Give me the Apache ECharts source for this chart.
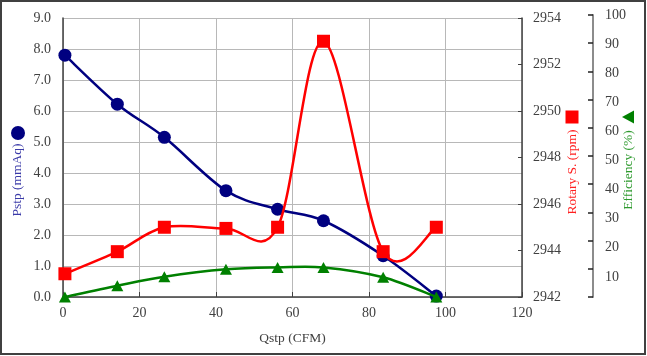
<!DOCTYPE html>
<html>
<head>
<meta charset="utf-8">
<script src="https://cdn.jsdelivr.net/npm/echarts@6/dist/echarts.min.js"></script>
<style>
html,body{margin:0;padding:0;background:#fff;}
#c{width:647px;height:356px;}
</style>
</head>
<body>
<div id="c"></div>
<script>
// Data
var qstp = [0.5, 14.2, 26.5, 42.6, 56.1, 68.1, 83.7, 97.6];
var pstp = [7.8, 6.22, 5.15, 3.43, 2.83, 2.46, 1.33, 0.03];
var rotary = [2943.0, 2943.95, 2945.0, 2944.95, 2945.0, 2953.0, 2943.95, 2945.0];
var efficiency = [0.0, 4.0, 7.2, 9.8, 10.5, 10.5, 7.0, 0.0];

var xTicks = [0, 20, 40, 60, 80, 100, 120];

function pairs(xs, ys){ return xs.map(function(x,i){ return [x, ys[i]]; }); }

var FONT = '"Liberation Serif", "DejaVu Serif", serif';
var labelStyle = { fontFamily: FONT, fontSize: 14, color: '#404040' };

// Excel-like smoothed curve (Catmull-Rom as cubic Bezier) through the library's coordinates
function smoothRenderer(xs, ys, color, width){
  return function(params, api){
    if (params.dataIndex !== 0) return null;
    var p = xs.map(function(x,i){ return api.coord([x, ys[i]]); });
    var n = p.length;
    var d = 'M' + p[0][0] + ' ' + p[0][1];
    for (var i = 0; i < n - 1; i++){
      var p0 = p[Math.max(i-1,0)], p1 = p[i], p2 = p[i+1], p3 = p[Math.min(i+2,n-1)];
      var c1x = p1[0] + (p2[0]-p0[0])/6, c1y = p1[1] + (p2[1]-p0[1])/6;
      var c2x = p2[0] - (p3[0]-p1[0])/6, c2y = p2[1] - (p3[1]-p1[1])/6;
      d += ' C' + c1x + ' ' + c1y + ' ' + c2x + ' ' + c2y + ' ' + p2[0] + ' ' + p2[1];
    }
    return { type: 'path', shape: { pathData: d }, style: { fill: 'none', stroke: color, lineWidth: width } };
  };
}

var chart = echarts.init(document.getElementById('c'), null, {renderer:'canvas'});
var option = {
  animation: false,
  backgroundColor: '#ffffff',
  grid: [
    { left: 63, right: 125, top: 18, bottom: 59 },
    { left: 63, right: 125, top: 15, bottom: 59 },
    { left: 63, right: 125, top: 15, bottom: 50 }
  ],
  xAxis: [
    {
      type: 'value', gridIndex: 0, min: 0, max: 120, interval: 20,
      axisLine: { show: true, onZero: false, lineStyle: { color: '#404040', width: 1.5 } },
      axisTick: { show: true, inside: true, length: 5, lineStyle: { color: '#404040' } },
      axisLabel: Object.assign({ margin: 9, formatter: function(v){ return xTicks.indexOf(v) >= 0 ? String(v) : ''; } }, labelStyle),
      splitLine: { show: true, lineStyle: { color: '#b8b8b8', width: 1 } },
      name: 'Qstp (CFM)', nameLocation: 'middle', nameGap: 34,
      nameTextStyle: { fontFamily: FONT, fontSize: 13.5, color: '#404040' }
    },
    { type: 'value', gridIndex: 1, min: 0, max: 120, show: false },
    { type: 'value', gridIndex: 2, min: 0, max: 120, show: false }
  ],
  yAxis: [
    {
      type: 'value', gridIndex: 0, position: 'left', min: 0, max: 9, interval: 1,
      axisLine: { show: true, onZero: false, lineStyle: { color: '#404040', width: 1.5 } },
      axisTick: { show: false },
      axisLabel: Object.assign({ margin: 12, formatter: function(v){ return v.toFixed(1); } }, labelStyle),
      splitLine: { show: true, lineStyle: { color: '#b8b8b8', width: 1 } }
    },
    {
      type: 'value', gridIndex: 0, position: 'right', min: 2942, max: 2954, interval: 2,
      axisLine: { show: true, onZero: false, lineStyle: { color: '#404040', width: 1.5 } },
      axisTick: { show: true, inside: true, length: 4, lineStyle: { color: '#404040' } },
      axisLabel: Object.assign({ margin: 11, formatter: function(v){ return String(v); } }, labelStyle),
      splitLine: { show: false }
    },
    {
      type: 'value', gridIndex: 1, position: 'right', offset: 71, min: 0, max: 100, interval: 10,
      axisLine: { show: true, onZero: false, lineStyle: { color: '#8c8c8c', width: 2 } },
      axisTick: { show: true, inside: true, length: 5, lineStyle: { color: '#202020', width: 1.5 } },
      axisLabel: { show: false },
      splitLine: { show: false }
    },
    {
      // tick labels of the efficiency axis (spaced slightly wider, as in the reference)
      type: 'value', gridIndex: 2, position: 'right', offset: 71, min: 0, max: 100, interval: 10,
      axisLine: { show: false, onZero: false },
      axisTick: { show: false },
      axisLabel: Object.assign({ margin: 12, showMinLabel: false }, labelStyle),
      splitLine: { show: false }
    }
  ],
  series: [
    {
      name: 'Pstp line', type: 'custom', xAxisIndex: 0, yAxisIndex: 0, z: 2,
      data: pairs(qstp, pstp), encode: { x: 0, y: 1 },
      renderItem: smoothRenderer(qstp, pstp, '#000080', 2.5)
    },
    {
      name: 'Pstp', type: 'scatter', xAxisIndex: 0, yAxisIndex: 0, z: 3,
      data: pairs(qstp, pstp), symbol: 'circle', symbolSize: 13,
      itemStyle: { color: '#000080', opacity: 1 }
    },
    {
      name: 'Rotary line', type: 'custom', xAxisIndex: 0, yAxisIndex: 1, z: 4,
      data: pairs(qstp, rotary), encode: { x: 0, y: 1 },
      renderItem: smoothRenderer(qstp, rotary, '#ff0000', 2.5)
    },
    {
      name: 'Rotary S.', type: 'scatter', xAxisIndex: 0, yAxisIndex: 1, z: 5,
      data: pairs(qstp, rotary), symbol: 'rect', symbolSize: 13,
      itemStyle: { color: '#ff0000', opacity: 1 }
    },
    {
      name: 'Efficiency line', type: 'custom', xAxisIndex: 1, yAxisIndex: 2, z: 6,
      data: pairs(qstp, efficiency), encode: { x: 0, y: 1 },
      renderItem: smoothRenderer(qstp, efficiency, '#008000', 2.5)
    },
    {
      name: 'Efficiency', type: 'scatter', xAxisIndex: 1, yAxisIndex: 2, z: 7,
      data: pairs(qstp, efficiency), symbol: 'triangle', symbolSize: [12, 11],
      itemStyle: { color: '#008000', opacity: 1 }
    }
  ],
  graphic: [
    { type: 'rect', shape: { x: 1, y: 1, width: 644, height: 353 }, style: { fill: 'none', stroke: '#404040', lineWidth: 2 }, silent: true },
    { type: 'text', x: 17, y: 180, rotation: Math.PI/2,
      style: { text: 'Pstp (mmAq)', font: '13.5px ' + FONT, fill: '#3a3aa8', textAlign: 'center', textVerticalAlign: 'middle' } },
    { type: 'circle', shape: { cx: 18, cy: 133, r: 7 }, style: { fill: '#000080' } },
    { type: 'text', x: 572, y: 172, rotation: Math.PI/2,
      style: { text: 'Rotary S. (rpm)', font: '13.5px ' + FONT, fill: '#ff2020', textAlign: 'center', textVerticalAlign: 'middle' } },
    { type: 'rect', shape: { x: 565.5, y: 110.5, width: 13, height: 13 }, style: { fill: '#ff0000' } },
    { type: 'text', x: 628, y: 170, rotation: Math.PI/2,
      style: { text: 'Efficiency (%)', font: '13.5px ' + FONT, fill: '#2e9a2e', textAlign: 'center', textVerticalAlign: 'middle' } },
    { type: 'polygon', shape: { points: [[622, 117], [634, 110.5], [634, 123.5]] }, style: { fill: '#008000' } }
  ]
};
chart.setOption(option);
</script>
</body>
</html>
